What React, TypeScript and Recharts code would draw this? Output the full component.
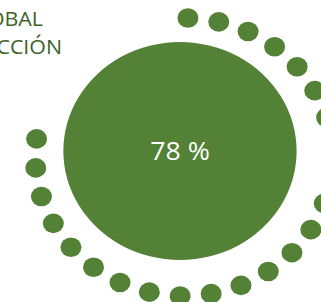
import { Cell, Pie, PieChart } from 'recharts'

// Valores
const titleLines = ['GLOBAL', 'SATISFACCIÓN']
const satisfaction = [78]
const dotGroups = ['lleno', 'vacío']
const dotCounts = [24, 6]

const GREEN = '#538135'
const TITLE = '#3d6326'
// la imagen original está estirada en horizontal
const STRETCH = 1.07

const ringData = dotGroups.flatMap((estado, g) =>
  Array.from({ length: dotCounts[g] }, (_, i) => ({ name: `${estado}-${i}`, estado, value: 1 })),
)
const discData = [{ name: 'satisfacción', value: satisfaction[0] }]

const RADIAN = Math.PI / 180

function Dot(props: any) {
  const { cx, cy, midAngle, innerRadius, outerRadius, payload } = props
  if ((payload?.estado ?? props.estado) !== 'lleno') return null
  const r = (innerRadius + outerRadius) / 2
  const x = cx + r * Math.cos(-midAngle * RADIAN)
  const y = cy + r * Math.sin(-midAngle * RADIAN)
  return <circle cx={x} cy={y} r={9.8} fill={GREEN} />
}

// el porcentaje va en el centro del disco, tomado de la geometría del propio Pie
function CenterValue(props: any) {
  const { cx, cy } = props
  return (
    <text x={cx} y={cy + 9} textAnchor="middle" fill="#ffffff" fontSize={25}>
      {`${satisfaction[0]} %`}
    </text>
  )
}

export default function App() {
  return (
    <div
      style={{
        position: 'absolute',
        left: 0,
        top: 0,
        width: 300,
        height: 302,
        transform: `scaleX(${STRETCH})`,
        transformOrigin: '0 0',
        fontFamily: '"Open Sans", sans-serif',
      }}
    >
      <PieChart width={300} height={302} margin={{ top: 0, right: 0, bottom: 0, left: 0 }}>
        <text x={40.2} y={26} textAnchor="end" fill={TITLE} fontSize={20}>
          {titleLines[0]}
        </text>
        <text x={58} y={54} textAnchor="end" fill={TITLE} fontSize={20}>
          {titleLines[1]}
        </text>
        <Pie
          data={ringData}
          dataKey="value"
          cx={172}
          cy={157}
          innerRadius={129}
          outerRadius={149}
          startAngle={94.5}
          endAngle={-265.5}
          stroke="none"
          label={Dot}
          labelLine={false}
          isAnimationActive={false}
        >
          {ringData.map((d) => (
            <Cell key={d.name} fill="transparent" />
          ))}
        </Pie>
        <Pie
          data={discData}
          dataKey="value"
          cx={168.2}
          cy={151}
          outerRadius={109}
          fill={GREEN}
          stroke="none"
          label={CenterValue}
          labelLine={false}
          isAnimationActive={false}
        />
      </PieChart>
    </div>
  )
}
